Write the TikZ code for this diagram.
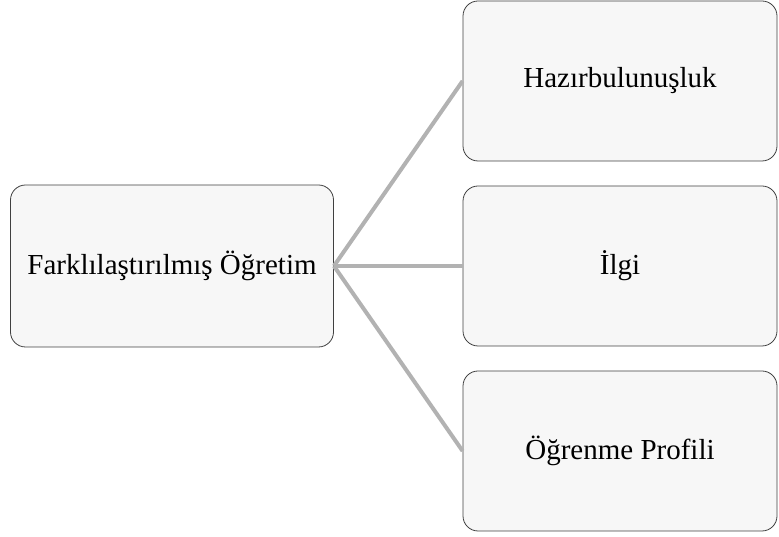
\documentclass[tikz,border=0pt]{standalone}
\usepackage{fontspec}
\setmainfont{Liberation Serif}
\usetikzlibrary{positioning}

\begin{document}
\begin{tikzpicture}[
                x=1pt, y=1pt,
                grow'=right, % 向右生长，第一个子节点在上
                level distance=448pt, % 两列中心之间的距离
                sibling distance=185pt, % 右侧节点之间的距离
                every node/.style={
                    rectangle, % 矩形节点
                    rounded corners=15pt, % 圆角
                    draw=black!75, % 边框颜色
                    fill=black!3, % 填充颜色
                    line width=0.8pt,
                    minimum height=160pt, % 最小高度
                    inner sep=0, % 内边距为 0
                    font=\fontsize{29}{34}\selectfont % 字体大小
                },
                level 1/.style={minimum width=314pt}, % 右侧节点宽度
                edge from parent/.style={draw=black!30, line width=4pt},
                edge from parent path={(\tikzparentnode.east) -- (\tikzchildnode.west)}
            ]

            \useasboundingbox (0,0) rectangle (779,537);

            % 左侧节点及其三个分支
            \node[minimum width=323pt, minimum height=162pt](diff) at (172,271) {Farklılaştırılmış Öğretim}
                child { node(hazir) {Hazırbulunuşluk} } % 上
                child { node(ilgi) {İlgi} } % 中
                child { node(profil) {Öğrenme Profili} }; % 下
            \end{tikzpicture}
\end{document}
